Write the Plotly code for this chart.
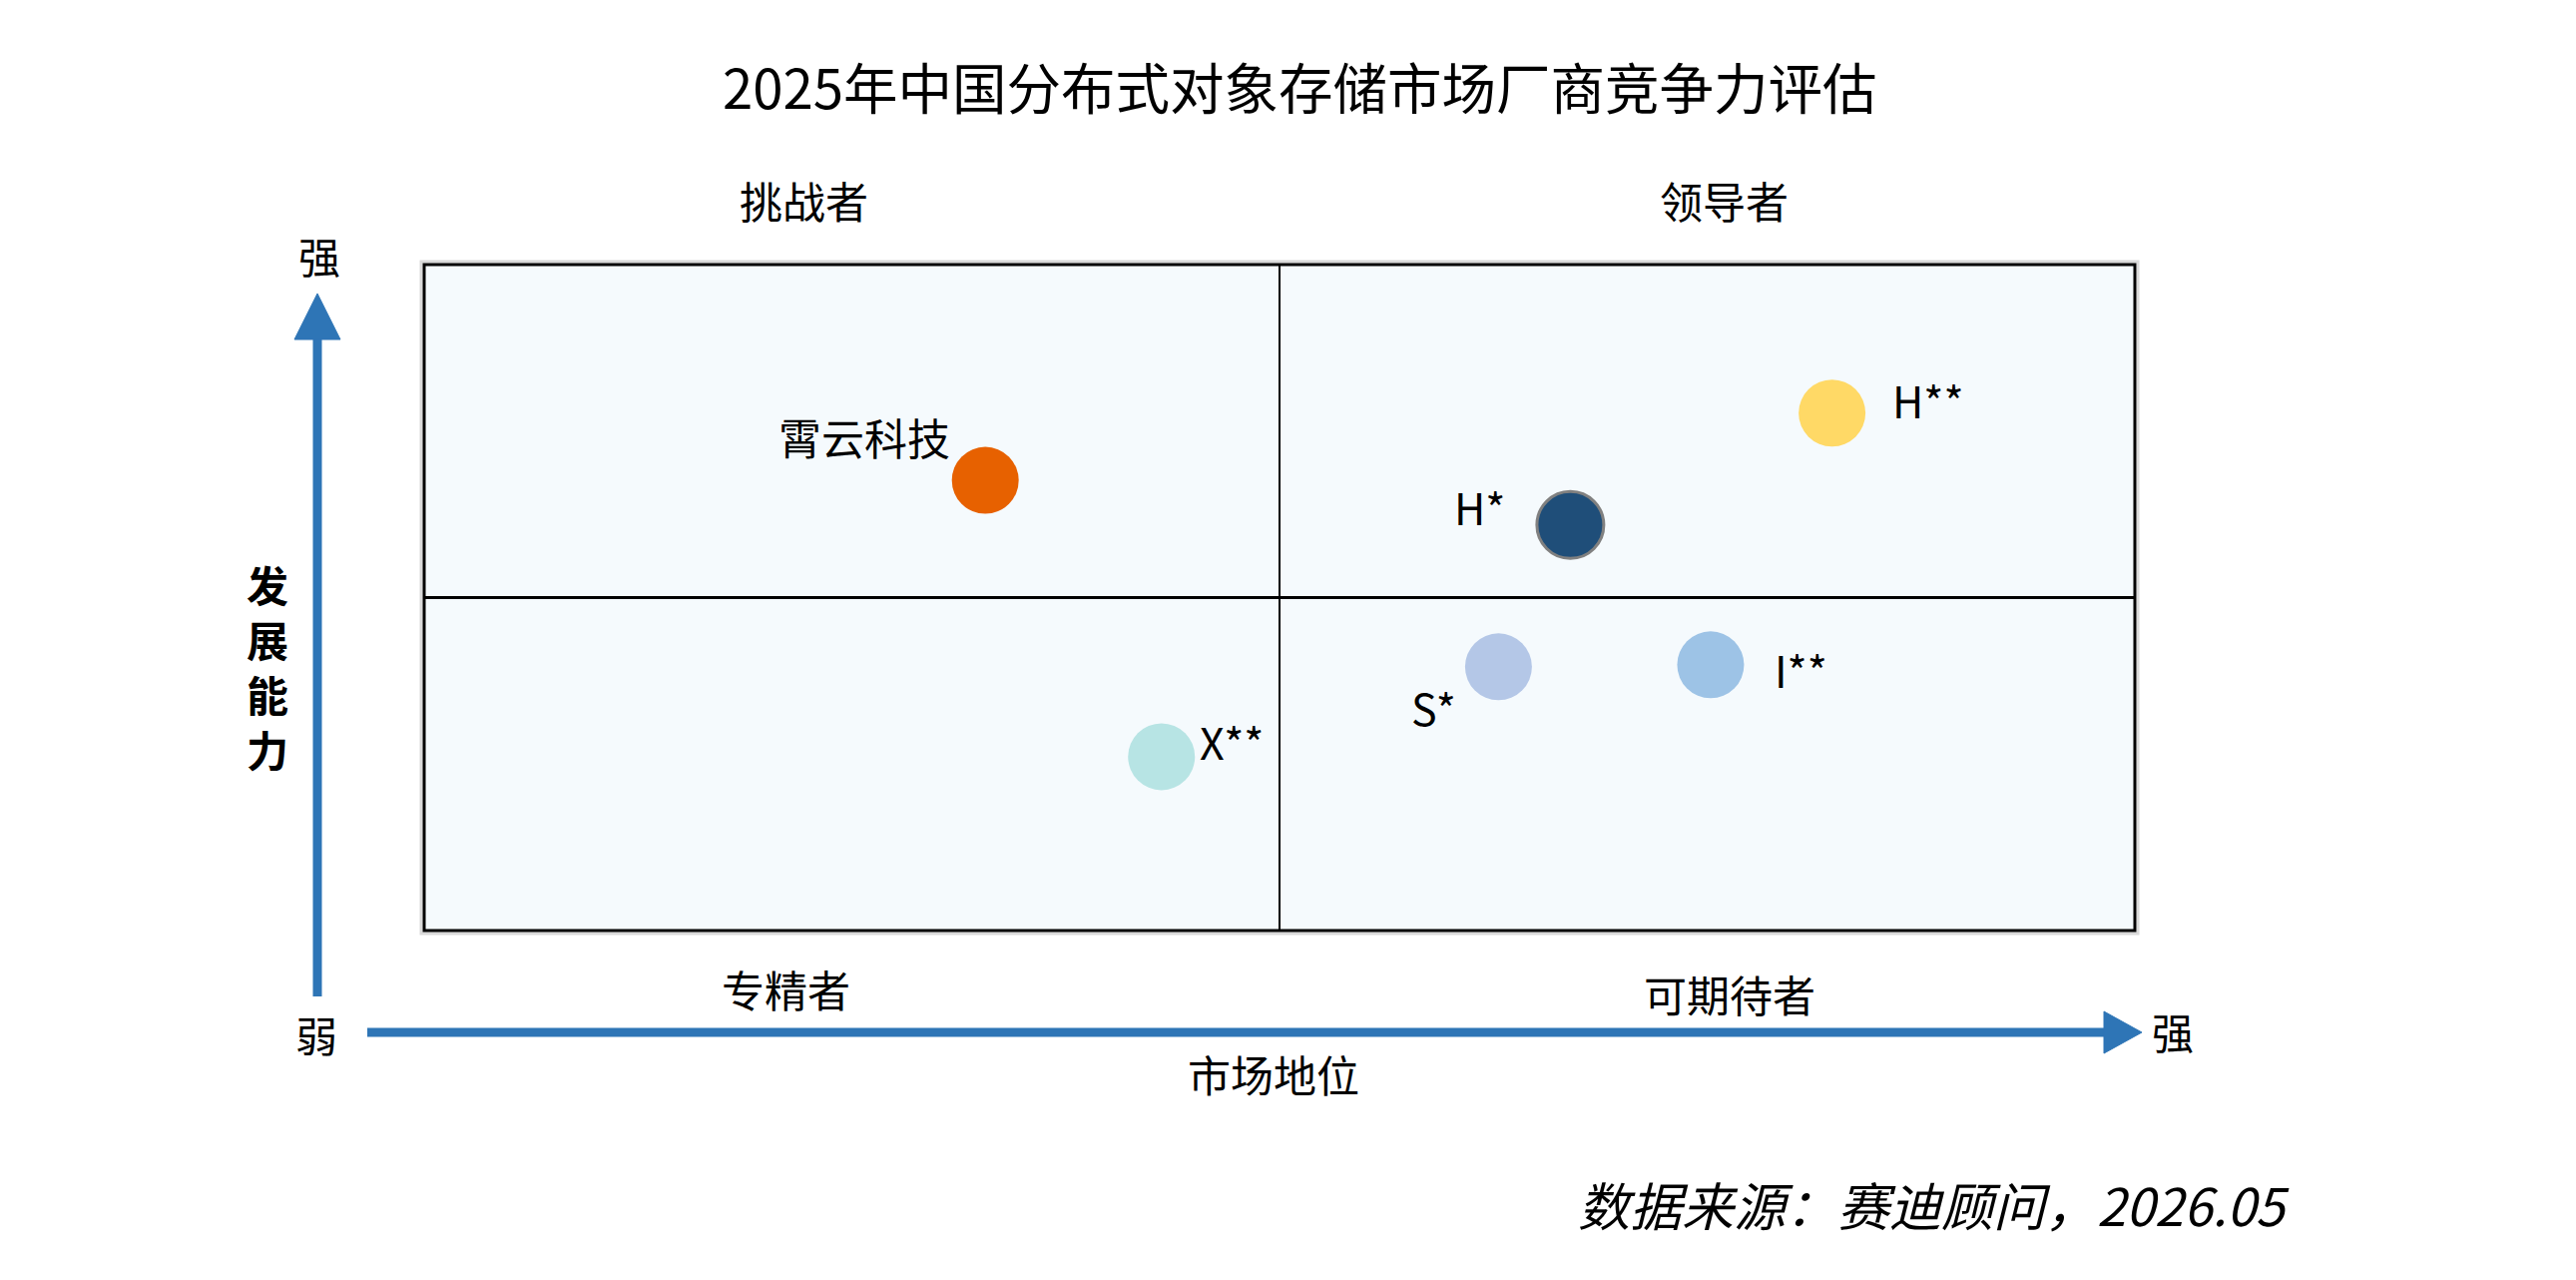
import plotly.graph_objects as go

# ---------------- data ----------------
title_text = "2025年中国分布式对象存储市场厂商竞争力评估"
vendors = ["霄云科技", "H**", "H*", "S*", "I**", "X**"]
market_position = [3.28, 8.23, 6.70, 6.28, 7.52, 4.31]      # x: 市场地位
development_ability = [6.76, 7.77, 6.09, 3.96, 3.99, 2.61]  # y: 发展能力
quadrant_names = ["挑战者", "领导者", "专精者", "可期待者"]
x_axis_name = "市场地位"
y_axis_name = "发展能力"
strong_label = "强"
weak_label = "弱"
source_text = "数据来源：赛迪顾问，2026.05"

# ---------------- styles ----------------
W, H = 2581, 1282
FONT = "Noto Sans CJK SC"
marker_colors = ["#E76100", "#FFD966", "#1F4E79", "#B4C7E7", "#9DC3E6", "#B7E4E4"]
marker_line_colors = ["rgba(0,0,0,0)", "rgba(0,0,0,0)", "#808080",
                      "rgba(0,0,0,0)", "rgba(0,0,0,0)", "rgba(0,0,0,0)"]
marker_line_widths = [0, 0, 3, 0, 0, 0]
# label placement: (xanchor, xshift, yshift)
label_pos = [("right", -33, 44), ("left", 58, 14), ("right", -63, 19),
             ("right", -40, -40), ("left", 62, -4), ("left", 36, 16)]
ARROW = "#2E75B6"

# plot box in pixels
BX0, BX1, BY0, BY1 = 425, 2139, 265, 932


def px(x):
    return x / W


def py(y):
    return 1 - y / H


fig = go.Figure()
fig.add_trace(go.Scatter(
    x=market_position, y=development_ability, mode="markers",
    text=vendors, hoverinfo="text",
    marker=dict(size=67, color=marker_colors, opacity=1,
                line=dict(color=marker_line_colors, width=marker_line_widths)),
    showlegend=False, cliponaxis=False,
))

shapes = []
# shadow + frame
shapes.append(dict(type="rect", xref="paper", yref="paper",
                   x0=px(BX0 - 3), x1=px(BX1 + 3), y0=py(BY1 + 3), y1=py(BY0 - 3),
                   line=dict(color="#D9D9D9", width=3), fillcolor="rgba(0,0,0,0)", layer="below"))
shapes.append(dict(type="rect", xref="paper", yref="paper",
                   x0=px(BX0), x1=px(BX1), y0=py(BY1), y1=py(BY0),
                   line=dict(color="#000000", width=3), fillcolor="rgba(0,0,0,0)", layer="above"))
# quadrant dividers
shapes.append(dict(type="line", xref="x", yref="paper", x0=5, x1=5, y0=py(BY1), y1=py(BY0),
                   line=dict(color="#000000", width=2), layer="above"))
shapes.append(dict(type="line", xref="paper", yref="y", x0=px(BX0), x1=px(BX1), y0=5, y1=5,
                   line=dict(color="#000000", width=3), layer="above"))
# vertical arrow
VX = 318
shapes.append(dict(type="line", xref="paper", yref="paper", x0=px(VX), x1=px(VX),
                   y0=py(998), y1=py(338), line=dict(color=ARROW, width=9)))
shapes.append(dict(type="path", xref="paper", yref="paper",
                   path=f"M {px(VX-23)},{py(340)} L {px(VX+23)},{py(340)} L {px(VX)},{py(294)} Z",
                   fillcolor=ARROW, line=dict(color=ARROW, width=1)))
# horizontal arrow
HY = 1034
shapes.append(dict(type="line", xref="paper", yref="paper", x0=px(368), x1=px(2110),
                   y0=py(HY), y1=py(HY), line=dict(color=ARROW, width=9)))
shapes.append(dict(type="path", xref="paper", yref="paper",
                   path=f"M {px(2108)},{py(HY-21)} L {px(2108)},{py(HY+21)} L {px(2146)},{py(HY)} Z",
                   fillcolor=ARROW, line=dict(color=ARROW, width=1)))

ann = []


def txt(text, x, y, size, xanchor="center", bold=False, italic=False):
    f = dict(family=FONT, size=size, color="#000000")
    if bold:
        f["weight"] = "bold"
    if italic:
        f["style"] = "italic"
    ann.append(dict(text=text, xref="paper", yref="paper", x=px(x), y=py(y),
                    xanchor=xanchor, yanchor="middle", showarrow=False, font=f))


txt(title_text, 1302, 86, 54.5)
txt(quadrant_names[0], 806, 200, 43)
txt(quadrant_names[1], 1727, 200, 43)
txt(quadrant_names[2], 787, 990, 43)
txt(quadrant_names[3], 1733, 995, 43)
txt(x_axis_name, 1276, 1075, 43)
# vertical axis name, one character per line
for i, ch in enumerate(y_axis_name):
    txt(ch, 268, 584 + i * 55, 42, bold=True)
txt(strong_label, 320, 255, 42)
txt(weak_label, 317, 1035, 42)
txt(strong_label, 2177, 1032, 42)
txt(source_text, 2296, 1205, 52, xanchor="right", italic=True)

for name, xv, yv, (xa, xs, ys) in zip(vendors, market_position, development_ability, label_pos):
    ann.append(dict(text=name, xref="x", yref="y", x=xv, y=yv, xanchor=xa, yanchor="middle",
                    xshift=xs, yshift=ys, showarrow=False,
                    font=dict(family=FONT, size=43, color="#000000")))

fig.update_layout(
    width=W, height=H, margin=dict(l=0, r=0, t=0, b=0),
    paper_bgcolor="#FFFFFF", plot_bgcolor="#F5FAFD",
    xaxis=dict(domain=[px(BX0), px(BX1)], range=[0, 10], visible=False, fixedrange=True),
    yaxis=dict(domain=[py(BY1), py(BY0)], range=[0, 10], visible=False, fixedrange=True),
    shapes=shapes, annotations=ann, showlegend=False,
)

fig.write_html("out.html", config={"displayModeBar": False},
               post_script="document.body.style.margin='0';document.body.style.overflow='hidden';")
